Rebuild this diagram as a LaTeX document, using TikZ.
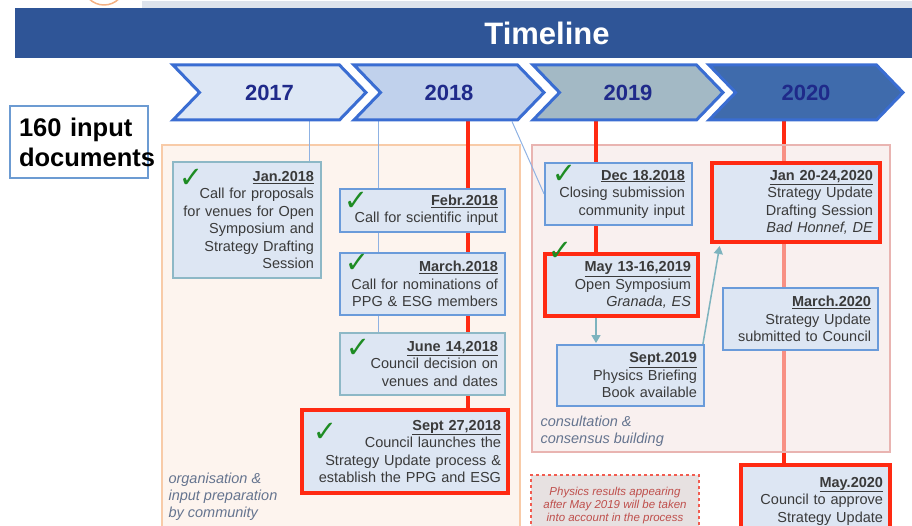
\documentclass[tikz,border=0pt]{standalone}
\usepackage{fontspec}
\setmainfont{Liberation Sans}
\newfontfamily\tickfont{DejaVu Sans}
\usetikzlibrary{shapes.symbols}
\usetikzlibrary{backgrounds}
\usetikzlibrary{arrows.meta}
\definecolor{banner}{HTML}{2F5597}
\definecolor{stripgray}{HTML}{DDE3EC}
\definecolor{arcorange}{HTML}{F4B183}
\definecolor{yearedge}{HTML}{3A6DD2}
\definecolor{yeartext}{HTML}{1F2A8A}
\definecolor{yfillA}{HTML}{DDE7F5}
\definecolor{yfillB}{HTML}{C0D1EC}
\definecolor{yfillC}{HTML}{A3B9C5}
\definecolor{yfillD}{HTML}{3F6BAC}
\definecolor{inputedge}{HTML}{6C9BD2}
\definecolor{evfill}{HTML}{DDE6F3}
\definecolor{evedge}{HTML}{6A9BDA}
\definecolor{doneedge}{HTML}{8DB8C6}
\definecolor{keyred}{HTML}{FF2A12}
\definecolor{evtext}{HTML}{3A3A3A}
\definecolor{checkgreen}{HTML}{1E8C23}
\definecolor{orgfill}{HTML}{FDF4EE}
\definecolor{orgedge}{HTML}{F8CBA8}
\definecolor{confill}{HTML}{F4E4E2}
\definecolor{conedge}{HTML}{E9B4B1}
\definecolor{labeltext}{HTML}{65748F}
\definecolor{notered}{HTML}{F25C50}
\definecolor{notefill}{HTML}{E7E1E1}
\definecolor{notetext}{HTML}{BF4F4C}
\definecolor{linkblue}{HTML}{8FB2E3}
\definecolor{flowteal}{HTML}{7DB3BE}
\tikzset{
	yearstyle/.style={signal, signal to=east, signal from=west, signal pointer angle=92, draw=yearedge, line width=3pt, minimum height=55pt, text=yeartext, font=\fontsize{22}{26}\selectfont\bfseries},
	inputstyle/.style={rectangle, draw=inputedge, line width=2pt, fill=white, minimum width=138pt, minimum height=72pt, text width=120pt, inner xsep=9pt, align=left, font=\fontsize{25.5}{30}\selectfont\bfseries},
	eventstyle/.style={rectangle, draw=evedge, line width=1.8pt, fill=evfill, align=right, inner xsep=7pt, inner ysep=2pt, text=evtext, font=\fontsize{14.5}{17.5}\selectfont},
	donestyle/.style={eventstyle, draw=doneedge},
	keystyle/.style={eventstyle, draw=keyred, line width=4pt},
	notestyle/.style={rectangle, draw=notered, dashed, line width=1.5pt, fill=notefill, minimum width=168pt, minimum height=62pt, align=center, text=notetext, font=\fontsize{11.5}{13}\selectfont\itshape},
	checkstyle/.style={text=checkgreen, inner sep=0pt, font=\tickfont\bfseries\fontsize{29}{29}\selectfont},
	regionlabel/.style={anchor=west, align=left, text=labeltext, font=\fontsize{14.5}{17}\selectfont\itshape},
	keyline/.style={draw=keyred, line width=4pt},
	linkline/.style={draw=linkblue, line width=1pt},
	flowline/.style={draw=flowteal, line width=1.5pt, -{Stealth[length=8pt, width=9pt, inset=0pt]}, shorten >=1pt}
}

\begin{document}
\begin{tikzpicture}[x=1pt, y=-1pt]
	\clip (0,0) rectangle (912,526);
	% title banner
	\fill[stripgray] (142,1) rectangle (912,8);
	\draw[arcorange, line width=1.5pt] (104,-16) circle (21);
	\fill[banner] (15,8) rectangle (912,58);
	\node[text=white, font=\fontsize{31}{31}\selectfont\bfseries] (title) at (547,33) {Timeline};

	% years
	\node[yearstyle, fill=yfillA, minimum width=193pt] (y2017) at (269.5,92.5) {2017};
	\node[yearstyle, fill=yfillB, minimum width=190pt] (y2018) at (449,92.5) {2018};
	\node[yearstyle, fill=yfillC, minimum width=190pt] (y2019) at (628,92.5) {2019};
	\node[yearstyle, fill=yfillD, minimum width=194pt] (y2020) at (806,92.5) {2020};

	\node[inputstyle] (input) at (79,142) {160 input\\documents};

	% events
	\node[donestyle, text width=134pt, minimum height=116pt] (jan18) at (247,220) {\underline{\textbf{Jan.2018}}\\Call for proposals\\for venues for Open\\Symposium and\\Strategy Drafting\\Session};
	\node[eventstyle, text width=151pt, minimum height=43pt] (feb18) at (422.5,210.5) {\underline{\textbf{Febr.2018}}\\Call for scientific input};
	\node[eventstyle, text width=151pt, minimum height=62pt] (mar18) at (422.5,284) {\underline{\textbf{March.2018}}\\Call for nominations of\\PPG \& ESG members};
	\node[donestyle, text width=151pt, minimum height=62pt] (jun18) at (422.5,364) {\underline{\textbf{June 14,2018}}\\Council decision on\\venues and dates};
	\node[keystyle, text width=192pt, minimum height=83pt] (sep18) at (405,451.5) {\underline{\textbf{Sept 27,2018}}\\Council launches the\\Strategy Update process \&\\establish the PPG and ESG};
	\node[eventstyle, text width=133pt, minimum height=62pt] (dec18) at (618.5,194) {\underline{\textbf{Dec 18.2018}}\\Closing submission\\community input};
	\node[keystyle, text width=139pt, minimum height=62pt] (may19) at (621.5,285) {\underline{\textbf{May 13-16,2019}}\\Open Symposium\\\textit{Granada, ES}};
	\node[eventstyle, text width=133pt, minimum height=61pt] (sep19) at (630.5,375.5) {\underline{\textbf{Sept.2019}}\\Physics Briefing\\Book available};
	\node[keystyle, text width=154pt, minimum height=79pt] (jan20) at (796,202.5) {\underline{\textbf{Jan 20-24,2020}}\\Strategy Update\\Drafting Session\\\textit{Bad Honnef, DE}};
	\node[eventstyle, text width=141pt, minimum height=62pt] (mar20) at (800.5,319) {\underline{\textbf{March.2020}}\\Strategy Update\\submitted to Council};
	\node[keystyle, text width=135pt, minimum height=72pt] (may20) at (815.5,501) {\underline{\textbf{May.2020}}\\Council to approve\\Strategy Update};
	\node[notestyle] (note) at (615,506) {Physics results appearing\\after May 2019 will be taken\\into account in the process};

	% ticks
	\node[checkstyle] (tick1) at (191,178) {✓};
	\node[checkstyle] (tick2) at (356,201) {✓};
	\node[checkstyle] (tick3) at (357,263) {✓};
	\node[checkstyle] (tick4) at (358,348) {✓};
	\node[checkstyle] (tick5) at (325,432) {✓};
	\node[checkstyle] (tick6) at (564,174) {✓};
	\node[checkstyle] (tick7) at (560,251) {✓};

	\node[regionlabel] (orglabel) at (165,497) {organisation \&\\input preparation\\by community};
	\node[regionlabel] (conlabel) at (537,431.5) {consultation \&\\consensus building};

	\coordinate (l17) at (309,0);
	\coordinate (l18b) at (378,0);
	\coordinate (l18r) at (468,0);
	\coordinate (l18d) at (512,0);
	\coordinate (l19) at (596,0);
	\coordinate (l20) at (784,0);

	\begin{scope}[on background layer]
		\draw[keyline] (y2020.south -| l20) -- (may20.north -| l20);
		\draw[orgedge, fill=orgfill, line width=1.5pt] (162,145) rectangle (520,545);
		\draw[conedge, fill=confill, fill opacity=0.55, line width=1.5pt] (532,145) rectangle (890,452);
		\draw[keyline] (y2018.south -| l18r) -- (sep18.north -| l18r);
		\draw[keyline] (y2019.south -| l19) -- (may19.north -| l19);
		\draw[linkline] (y2017.south -| l17) -- (jan18.north -| l17);
		\draw[linkline] (y2018.south -| l18b) -- (jun18.north -| l18b);
		\draw[linkline] (y2018.south -| l18d) -- (dec18.west);
		\draw[flowline] (may19.south -| l19) -- (sep19.north -| l19);
		\draw[flowline, shorten >=2pt] ([xshift=-2pt]sep19.north east) -- ([xshift=10pt]jan20.south west);
	\end{scope}
\end{tikzpicture}
\end{document}
